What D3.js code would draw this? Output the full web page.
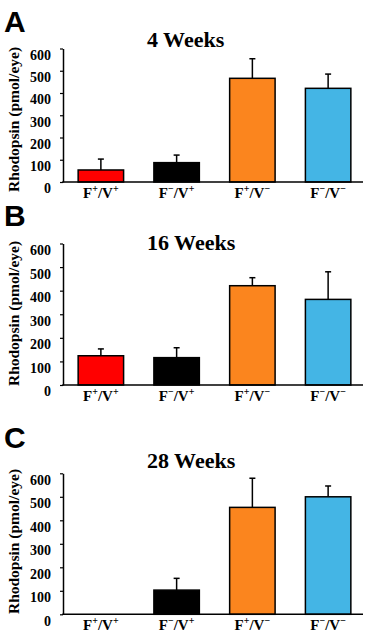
<!DOCTYPE html>
<html>
<head>
<meta charset="utf-8">
<script src="https://cdn.jsdelivr.net/npm/d3@7"></script>
<style>
  html, body { margin: 0; padding: 0; background: #fff; }
  svg { display: block; }
  .serif { font-family: "Liberation Serif", "Times New Roman", Times, serif; font-weight: bold; }
</style>
</head>
<body>
<svg id="chart" width="369" height="641"></svg>
<script>
// ---- Data ----
const categories = ["F+/V+", "F-/V+", "F+/V-", "F-/V-"];
const panelLetters = ["A", "B", "C"];
const panelTitles = ["4 Weeks", "16 Weeks", "28 Weeks"];
const means4 = [54, 87, 466, 421];
const errs4 = [49, 34, 88, 64];
const means16 = [124, 116, 421, 363];
const errs16 = [29, 42, 34, 117];
const means28 = [null, 103, 455, 500];
const errs28 = [null, 50, 124, 46];
const yTicks = [0, 100, 200, 300, 400, 500, 600];
const yLabel = "Rhodopsin (pmol/eye)";
const barColors = ["#ff0000", "#000000", "#fb851e", "#44b5e5"];

// ---- Layout ----
const layout = [
  { top: 48.5, base: 182, titleY: 47, letterY: 32, labelY: 119.5 },
  { top: 243.5, base: 385, titleY: 250, letterY: 226, labelY: 313.5 },
  { top: 473.3, base: 614.3, titleY: 468, letterY: 448, labelY: 541.5 }
];
const seriesMeans = [means4, means16, means28];
const seriesErrs = [errs4, errs16, errs28];
const axisX = 63, axisEnd = 363;

const svg = d3.select("#chart");

const x = d3.scaleBand().domain(categories).range([axisX, 366])
  .paddingInner(0.4).paddingOuter(0.2);

function labelParts(cat) {
  const f = cat[1] === "+" ? "+" : "\u2212";
  const v = cat[4] === "+" ? "+" : "\u2212";
  return [["F", false], [f, true], ["/V", false], [v, true]];
}

layout.forEach((L, i) => {
  const g = svg.append("g");
  const y = d3.scaleLinear().domain([0, 600]).range([L.base, L.top]);

  // panel letter
  g.append("text").attr("x", 4).attr("y", L.letterY)
    .style("font-family", "'Liberation Sans', Arial, sans-serif")
    .style("font-weight", "bold").style("font-size", "30px")
    .text(panelLetters[i]);

  // title
  g.append("text").attr("class", "serif").attr("x", 147).attr("y", L.titleY)
    .style("font-size", "22px")
    .text(panelTitles[i]);

  // y axis label
  g.append("text").attr("class", "serif")
    .attr("transform", `translate(18.5,${L.labelY}) rotate(-90)`)
    .attr("text-anchor", "middle")
    .style("font-size", "15.5px")
    .text(yLabel);

  // y axis
  const ya = g.append("g").attr("transform", `translate(${axisX},0)`)
    .call(d3.axisLeft(y).tickValues(yTicks).tickSize(3).tickSizeOuter(0).tickPadding(9));
  ya.attr("font-family", null).attr("font-size", null);
  ya.select(".domain").attr("stroke", "#000").attr("stroke-width", 1.5);
  ya.selectAll(".tick line").attr("stroke", "#000").attr("stroke-width", 1.2);
  ya.selectAll(".tick text").attr("class", "serif")
    .style("font-size", "14px")
    .attr("fill", "#000").attr("dy", "0.78em");

  // bars
  const means = seriesMeans[i], errs = seriesErrs[i];
  const rows = categories.map((c, k) => ({ c, m: means[k], e: errs[k], color: barColors[k] }))
    .filter(d => d.m != null);

  g.selectAll("rect.bar").data(rows).join("rect")
    .attr("class", "bar")
    .attr("x", d => x(d.c))
    .attr("width", x.bandwidth())
    .attr("y", d => y(d.m))
    .attr("height", d => y(0) - y(d.m))
    .attr("fill", d => d.color)
    .attr("stroke", "#000").attr("stroke-width", 1.5);

  // error bars
  const cx = d => x(d.c) + x.bandwidth() / 2;
  g.selectAll("line.err").data(rows).join("line")
    .attr("class", "err")
    .attr("x1", cx).attr("x2", cx)
    .attr("y1", d => y(d.m)).attr("y2", d => y(d.m + d.e))
    .attr("stroke", "#000").attr("stroke-width", 1.5);
  g.selectAll("line.cap").data(rows).join("line")
    .attr("class", "cap")
    .attr("x1", d => cx(d) - 3).attr("x2", d => cx(d) + 3)
    .attr("y1", d => y(d.m + d.e)).attr("y2", d => y(d.m + d.e))
    .attr("stroke", "#000").attr("stroke-width", 1.5);

  // x axis line
  g.append("line").attr("x1", axisX - 0.75).attr("x2", axisEnd)
    .attr("y1", y(0)).attr("y2", y(0))
    .attr("stroke", "#000").attr("stroke-width", 1.5);

  // x labels
  categories.forEach(c => {
    const t = g.append("text").attr("class", "serif")
      .attr("x", x(c) + x.bandwidth() / 2).attr("y", y(0) + 16)
      .attr("text-anchor", "middle")
      .style("font-size", "15px");
    labelParts(c).forEach(([s, sup], j, arr) => {
      const ts = t.append("tspan").text(s);
      if (sup) {
        ts.style("font-size", "10px").attr("dy", -6);
      } else if (j > 0 && arr[j - 1][1]) {
        ts.attr("dy", 6);
      }
    });
  });
});
</script>
</body>
</html>
